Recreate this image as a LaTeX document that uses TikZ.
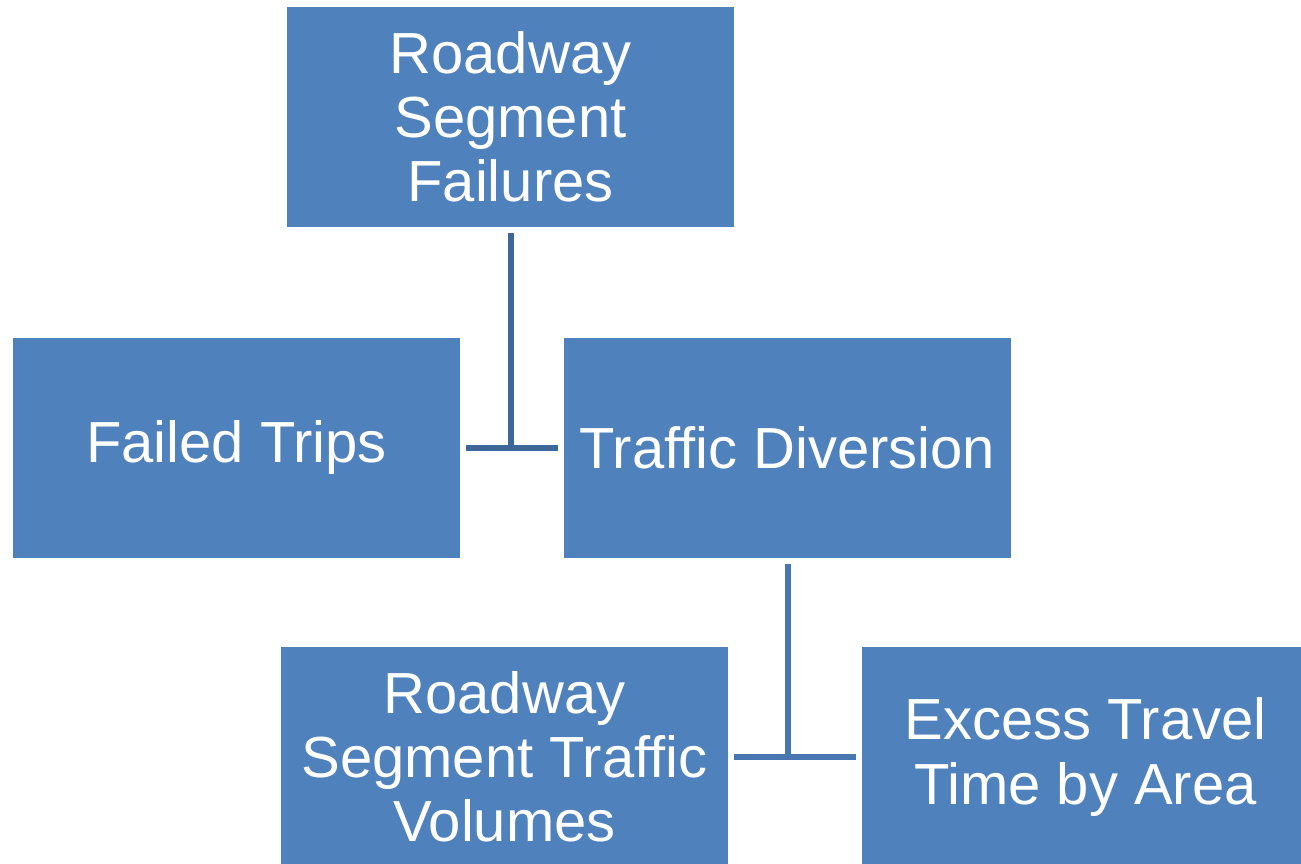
\documentclass[tikz,border=0pt]{standalone}
\usepackage{fontspec}
\setmainfont{Liberation Sans}
\usetikzlibrary{positioning, calc}
\definecolor{boxblue}{HTML}{4F81BD}
\definecolor{linedark}{HTML}{3D6699}
\definecolor{linemid}{HTML}{4876B0}
\tikzset{
  block/.style={rectangle, fill=boxblue, text=white, minimum width=8.94cm, minimum height=4.4cm,
    inner sep=0pt, align=center, font=\fontsize{33}{36.5}\selectfont},
  link/.style={line width=0.12cm}
}
\begin{document}
\begin{tikzpicture}[x=0.02cm, y=-0.02cm]
    \useasboundingbox (0,0) rectangle (1301,864);
        \node[block] (failures) at (510.5,117) {Roadway\\Segment\\Failures};
        \node[block] (failed) at (236.5,448) {Failed Trips};
        \node[block] (diversion) at (787.5,448) {Traffic Diversion};
        \node[block] (volumes) at (504.5,757) {Roadway\\Segment Traffic\\Volumes};
        \node[block] (excess) at (1085.5,757) {Excess Travel\\Time by Area};

        \draw[link, linedark] ([xshift=0.12cm]failed.east) -- ([xshift=-0.12cm]diversion.west);
        \draw[link, linedark] ([yshift=-0.12cm]failures.south) -- (failures.south |- failed.east);
        \draw[link, linemid] ([xshift=0.12cm]volumes.east) -- ([xshift=-0.12cm]excess.west);
        \draw[link, linemid] ([yshift=-0.12cm]diversion.south) -- (diversion.south |- volumes.east);
    \end{tikzpicture}
\end{document}
